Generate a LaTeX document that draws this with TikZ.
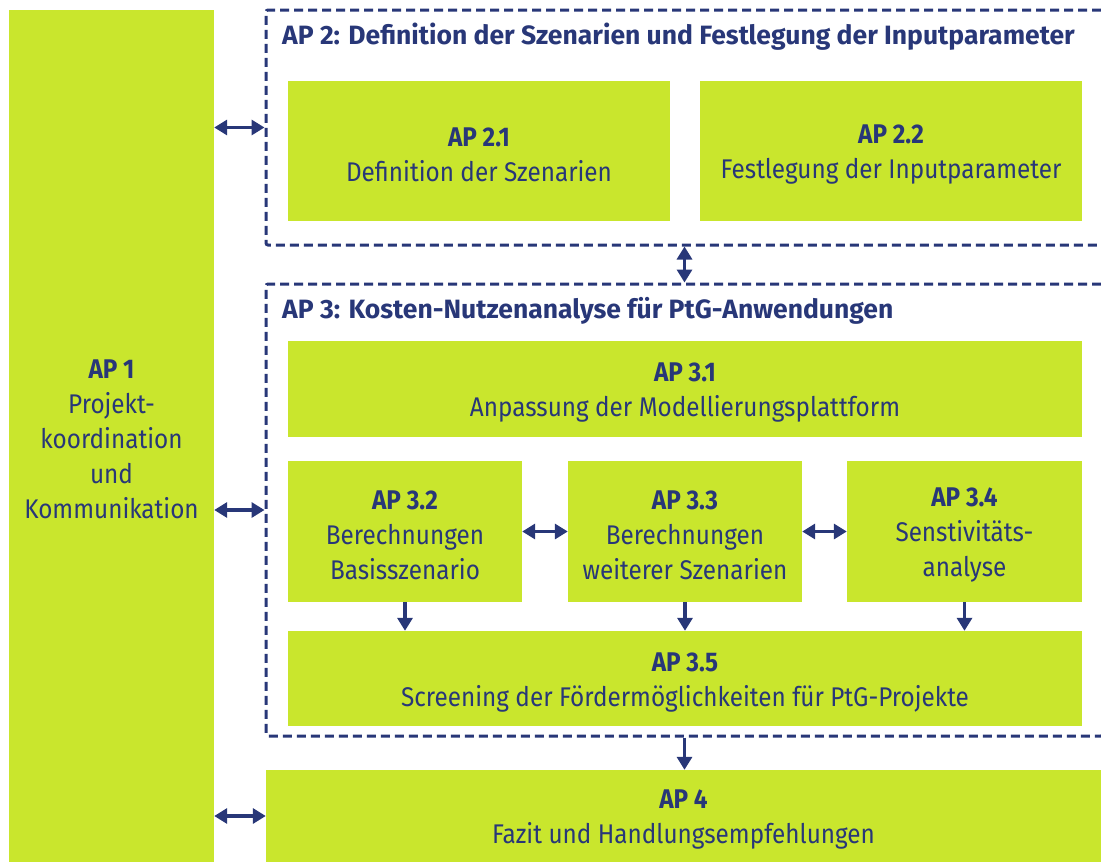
\documentclass[tikz,border=0pt]{standalone}
\usepackage{fontspec}
\setmainfont{Fira Sans}[FakeStretch=0.9]
\newfontfamily\aptitlefont{Fira Sans}
\usetikzlibrary{arrows.meta}
\definecolor{apgreen}{RGB}{201,230,45}
\definecolor{apblue}{RGB}{40,55,120}
\newcommand{\apno}[1]{\rule{0pt}{26pt}\textbf{#1}}
\tikzset{%
    apbox/.style={
      rectangle,
      fill=apgreen,
      text=apblue,
      inner sep=0pt,
      align=center,
      font=\fontsize{27}{35}\selectfont
    },
    apframe/.style={
      rectangle,
      draw=apblue,
      line width=3pt,
      dash pattern=on 9pt off 5pt,
      rounded corners=2pt,
      inner sep=0pt
    },
    aptitle/.style={
      anchor=base west,
      inner sep=0pt,
      text=apblue,
      font=\aptitlefont\bfseries\fontsize{26.5}{32}\selectfont
    },
    link/.style={
      draw=apblue,
      line width=3.5pt,
      {Triangle[length=13pt,width=15pt]}-{Triangle[length=13pt,width=15pt]}
    },
    down/.style={
      draw=apblue,
      line width=3.5pt,
      -{Triangle[length=13pt,width=15pt]}
    }
  }

\begin{document}
\begin{tikzpicture}[x=1pt, y=-1pt]
      \clip (0,0) rectangle (1101,862);

      % dashed work package frames
      \node [apframe, minimum width=837pt, minimum height=235pt] (ap2box) at (684.5,127.5) {};
      \node [apframe, minimum width=837pt, minimum height=452pt] (ap3box) at (684.5,510) {};
      \node [aptitle] (ap2title) at (282,45) {AP 2: Definition der Szenarien und Festlegung der Inputparameter};
      \node [aptitle] (ap3title) at (282,318) {AP 3: Kosten-Nutzenanalyse für PtG-Anwendungen};

      \node [apbox, minimum width=205pt, minimum height=852pt] (ap1) at (111.5,436) {\apno{AP 1}\\Projekt-\\koordination\\und\\Kommunikation};

      \node [apbox, minimum width=382pt, minimum height=140pt] (ap21) at (479,151) {\apno{AP 2.1}\\Definition der Szenarien};
      \node [apbox, minimum width=382pt, minimum height=140pt] (ap22) at (891,151) {\apno{AP 2.2}\\Festlegung der Inputparameter};

      \node [apbox, minimum width=794pt, minimum height=96pt] (ap31) at (685,389) {\apno{AP 3.1}\\Anpassung der Modellierungsplattform};
      \node [apbox, minimum width=234pt, minimum height=141pt] (ap32) at (405,531.5) {\apno{AP 3.2}\\Berechnungen\\Basisszenario};
      \node [apbox, minimum width=234pt, minimum height=141pt] (ap33) at (685,531.5) {\apno{AP 3.3}\\Berechnungen\\weiterer Szenarien};
      \node [apbox, minimum width=235pt, minimum height=141pt] (ap34) at (964.5,531.5) {\apno{AP 3.4}\\Senstivitäts-\\analyse};
      \node [apbox, minimum width=794pt, minimum height=95pt] (ap35) at (685,678.5) {\apno{AP 3.5}\\Screening der Fördermöglichkeiten für PtG-Projekte};

      \node [apbox, minimum width=835pt, minimum height=92pt] (ap4) at (683.5,816) {\apno{AP 4}\\Fazit und Handlungsempfehlungen};

      \draw [link] (ap1.east |- ap2box.west) -- (ap2box.west);
      \draw [link] (ap1.east |- ap3box.west) -- (ap3box.west);
      \draw [link] (ap1.east |- ap4.west) -- (ap4.west);

      \draw [link] (ap2box.south) -- (ap3box.north);
      \draw [link] (ap32.east) -- (ap33.west);
      \draw [link] (ap33.east) -- (ap34.west);

      \draw [down] (ap32.south) -- (ap32.south |- ap35.north);
      \draw [down] (ap33.south) -- (ap33.south |- ap35.north);
      \draw [down] (ap34.south) -- (ap34.south |- ap35.north);
      \draw [down] (ap3box.south) -- (ap3box.south |- ap4.north);
\end{tikzpicture}
\end{document}
